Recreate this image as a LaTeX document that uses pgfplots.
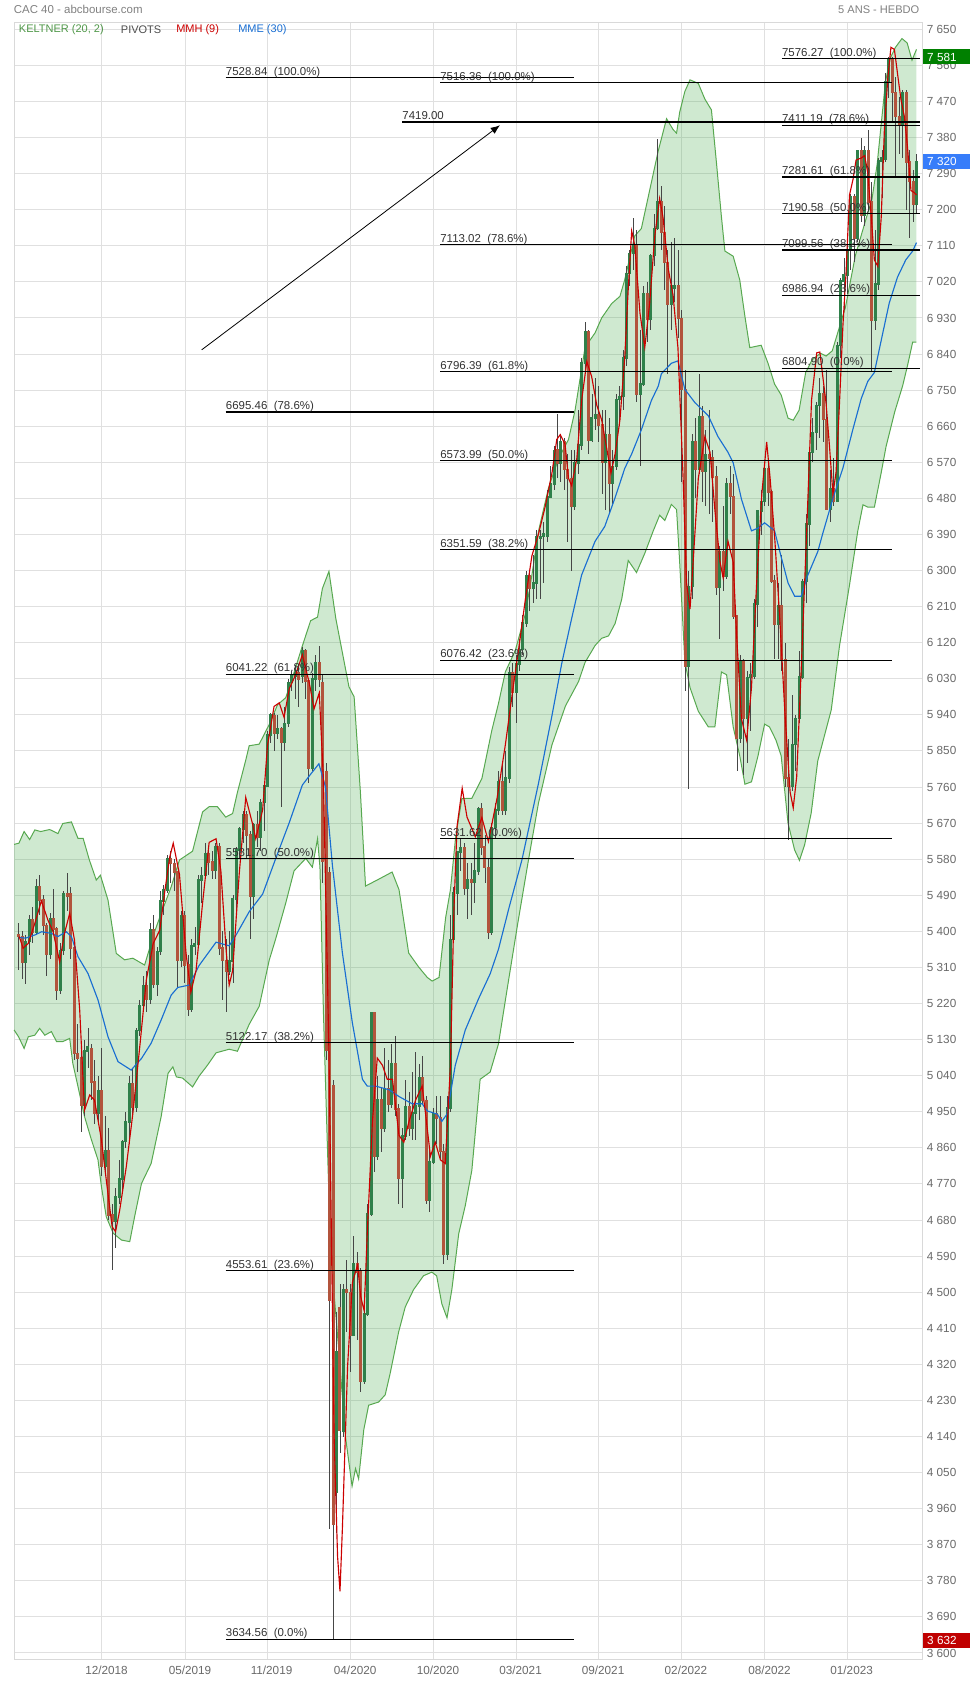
\documentclass[border=0pt]{standalone}
\usepackage{fontspec}
\setmainfont{Liberation Sans}
\usepackage{pgfplots}
\usepackage{pgfplotstable}
\pgfplotsset{compat=1.18}
\usetikzlibrary{arrows.meta}

\definecolor{bandline}{RGB}{88,168,80}
\definecolor{bandfill}{RGB}{76,175,80}
\definecolor{upcol}{RGB}{47,128,74}
\definecolor{dncol}{RGB}{178,84,60}
\definecolor{wick}{RGB}{70,70,70}
\definecolor{mmh}{RGB}{204,0,0}
\definecolor{mme}{RGB}{25,110,210}
\definecolor{gridc}{RGB}{224,224,224}
\definecolor{ticktext}{RGB}{105,105,105}
\definecolor{fibtext}{RGB}{50,50,50}
\definecolor{boxgreen}{RGB}{0,128,0}
\definecolor{boxblue}{RGB}{55,125,250}
\definecolor{boxred}{RGB}{192,0,0}

% rising weeks (close >= open)
\pgfplotstableread{
w O H L C
3 5324 5390 5270 5375
4 5375 5440 5340 5429
6 5398 5530 5390 5511
10 5344 5445 5330 5432
13 5252 5370 5245 5352
14 5352 5500 5340 5494
20 4967 5130 4940 5102
21 5102 5160 5060 5112
24 4947 5040 4920 5003
26 4813 4940 4800 4853
29 4678 4760 4610 4737
30 4737 4830 4720 4782
31 4782 4880 4745 4876
32 4876 4950 4860 4925
33 4925 5040 4870 5019
35 4961 5160 4950 5153
36 5153 5230 5140 5215
37 5215 5290 5200 5265
39 5231 5420 5220 5405
41 5269 5360 5240 5350
42 5350 5500 5340 5476
43 5476 5515 5440 5503
44 5503 5590 5495 5580
48 5327 5450 5310 5439
51 5207 5380 5200 5364
52 5364 5410 5340 5370
53 5368 5540 5360 5528
54 5528 5560 5470 5539
55 5539 5620 5530 5594
58 5552 5620 5530 5610
62 5300 5400 5290 5326
63 5326 5490 5270 5480
64 5480 5610 5440 5603
65 5603 5660 5580 5655
66 5655 5700 5620 5690
69 5488 5670 5430 5665
71 5636 5730 5600 5722
72 5722 5770 5650 5762
73 5762 5900 5760 5890
74 5890 5945 5870 5939
76 5894 5940 5880 5905
78 5872 5960 5850 5919
79 5919 6030 5910 6021
80 6021 6050 6000 6037
81 6037 6065 5980 6044
83 6037 6110 6020 6100
86 5806 6045 5800 6030
87 6030 6090 6000 6069
93 4000 4450 3900 4351
95 4154 4520 4140 4507
98 4393 4640 4390 4572
101 4278 4500 4270 4445
102 4445 4720 4440 4695
103 4695 5200 4690 5198
105 4839 5040 4830 4979
107 4910 5110 4900 5007
109 4970 5120 4960 5069
112 4784 4910 4710 4889
113 4889 5030 4880 4962
115 4910 5050 4880 4947
116 4947 5100 4880 4965
117 4965 5070 4930 5034
120 4730 4860 4700 4824
121 4824 4960 4820 4946
125 4594 4990 4580 4960
126 4960 5440 4950 5380
127 5380 5510 5370 5495
128 5495 5600 5440 5598
129 5598 5630 5550 5609
131 5507 5570 5430 5528
133 5522 5620 5470 5551
134 5551 5710 5540 5706
138 5399 5670 5390 5659
139 5659 5720 5630 5703
140 5703 5800 5690 5773
142 5703 5850 5690 5782
143 5782 6060 5770 6046
145 5997 6090 5920 6067
146 6067 6130 6050 6103
147 6103 6190 6090 6169
148 6169 6300 6160 6287
150 6257 6340 6220 6269
151 6269 6400 6230 6385
152 6380 6400 6230 6385
153 6385 6420 6270 6392
154 6386 6500 6370 6484
155 6484 6560 6480 6516
156 6516 6610 6500 6600
158 6569 6640 6520 6622
162 6460 6600 6450 6568
163 6568 6700 6540 6613
164 6613 6830 6600 6817
165 6817 6920 6790 6896
167 6626 6740 6620 6681
168 6681 6780 6650 6689
171 6570 6700 6450 6638
173 6518 6600 6460 6560
174 6560 6740 6550 6727
175 6727 6760 6660 6734
176 6734 6850 6700 6831
177 6831 7060 6810 7041
178 7041 7100 7010 7091
179 7091 7180 7050 7112
181 6739 6900 6560 6765
182 6765 7010 6760 6991
184 6927 7090 6900 7086
185 7086 7190 7060 7153
186 7153 7376 7150 7219
190 6965 7120 6900 7011
191 7005 7130 6970 7011
195 6062 6300 5756 6260
196 6260 6640 6230 6620
198 6553 6790 6540 6684
200 6548 6650 6460 6589
204 6258 6360 6130 6348
206 6285 6530 6280 6516
210 5882 6090 5870 6073
212 5931 6050 5820 6033
213 6033 6070 5900 6040
214 6036 6230 6030 6217
215 6217 6450 6160 6448
216 6448 6500 6390 6472
217 6472 6560 6460 6553
221 6167 6270 6080 6212
225 5762 5990 5750 5866
226 5866 5940 5800 5931
227 5931 6100 5920 6035
228 6035 6280 6030 6273
229 6273 6440 6220 6416
230 6416 6600 6360 6595
231 6595 6680 6570 6644
232 6644 6720 6600 6712
233 6712 6780 6630 6742
236 6453 6550 6420 6505
238 6474 6870 6470 6861
239 6861 7030 6830 7023
240 7023 7080 6950 7037
241 7037 7110 6990 7098
242 7098 7240 7050 7233
244 7130 7350 7120 7348
246 7187 7360 7160 7348
249 6925 7150 6900 7015
250 7015 7330 7000 7322
251 7322 7350 7230 7330
252 7325 7540 7320 7519
253 7519 7581 7480 7577
257 7414 7500 7330 7492
261 7213 7340 7190 7320
}\upc

% falling weeks (close < open)
\pgfplotstableread{
w O H L C
1 5392 5420 5303 5387
2 5387 5400 5280 5324
5 5429 5460 5370 5398
7 5511 5540 5440 5478
8 5478 5490 5390 5415
9 5415 5420 5290 5344
11 5432 5505 5395 5406
12 5406 5410 5230 5252
15 5494 5545 5450 5488
16 5493 5510 5330 5359
17 5359 5370 5080 5095
18 5095 5170 5050 5084
19 5084 5100 4900 4967
22 5107 5120 4980 5025
23 5025 5080 4920 4947
25 5003 5110 4790 4813
27 4853 4910 4680 4693
28 4693 4720 4556 4678
34 5019 5060 4940 4961
38 5265 5300 5200 5231
40 5405 5440 5260 5269
45 5580 5600 5520 5569
46 5569 5580 5500 5548
47 5548 5550 5260 5327
49 5439 5450 5270 5316
50 5316 5340 5190 5207
56 5594 5600 5540 5573
57 5573 5600 5530 5552
59 5610 5620 5340 5359
60 5359 5400 5230 5327
61 5327 5380 5200 5300
67 5690 5700 5580 5640
68 5640 5650 5380 5488
70 5665 5700 5610 5636
75 5939 5945 5850 5894
77 5905 5910 5710 5872
82 6044 6060 5960 6030
84 6100 6105 5980 6024
85 6024 6030 5770 5806
88 6069 6111 6010 6029
89 6020 6040 5520 5574
90 5797 5820 5080 5104
91 5545 5560 3910 4480
92 5014 5030 3632 3920
94 4462 4520 4100 4156
96 4507 4580 4400 4499
97 4499 4520 4300 4393
99 4572 4600 4380 4550
100 4550 4560 4250 4278
104 5198 5200 4800 4839
106 4979 5010 4850 4910
108 5007 5080 4950 4970
110 5069 5140 4940 4957
111 4957 4970 4720 4784
114 4962 5000 4890 4910
118 5034 5090 4970 4978
119 4978 4990 4720 4730
122 4946 4990 4870 4935
123 4935 4990 4830 4851
124 4851 4870 4570 4594
130 5609 5620 5490 5507
132 5528 5570 5440 5522
135 5706 5720 5590 5611
136 5611 5640 5520 5559
137 5559 5580 5380 5399
141 5773 5820 5690 5703
144 6046 6070 5960 5997
149 6287 6300 6200 6257
157 6600 6690 6530 6569
159 6622 6630 6500 6552
160 6552 6590 6370 6530
161 6530 6600 6300 6460
166 6896 6900 6590 6626
169 6689 6760 6620 6663
170 6663 6700 6490 6570
172 6638 6680 6440 6518
180 7112 7150 6720 6739
183 6991 7020 6870 6927
187 7219 7260 7100 7143
188 7143 7210 7000 7068
189 7068 7100 6790 6965
192 7011 7100 6880 6929
193 6929 6950 6520 6752
194 6752 6800 6000 6062
197 6620 6680 6480 6553
199 6684 6710 6470 6548
201 6589 6700 6440 6581
202 6581 6600 6420 6534
203 6534 6560 6240 6258
205 6348 6460 6250 6285
207 6516 6560 6440 6485
208 6485 6540 6180 6187
209 6187 6190 5800 5882
211 6073 6080 5790 5931
218 6553 6570 6460 6496
219 6496 6500 6270 6274
220 6274 6290 6080 6167
222 6212 6340 6050 6077
223 6077 6120 5760 5783
224 5783 5880 5628 5762
234 6742 6760 6620 6677
235 6677 6800 6450 6453
237 6505 6580 6460 6474
243 7233 7240 7070 7130
245 7348 7380 7170 7187
247 7348 7400 7200 7220
248 7220 7270 6795 6925
254 7577 7580 7420 7492
255 7492 7530 7280 7433
256 7433 7480 7340 7414
258 7492 7500 7200 7319
259 7319 7350 7130 7270
260 7270 7300 7170 7213
}\dnc

\pgfplotstableread{
w v
-0.4 5617
1 5620
2.5 5649
4.1 5629
5.6 5653
7.3 5649
9.9 5654
12.3 5644
13.7 5669
16.2 5673
18.1 5632
19.6 5632
21.4 5578
23.4 5528
24.6 5540
26.8 5478
29.2 5345
31.6 5329
34 5333
37.4 5316
40.3 5399
42.2 5445
45.1 5511
47.5 5578
51.3 5600
54.2 5698
56.1 5711
58.5 5711
60.9 5685
62.9 5694
64.3 5747
66.7 5827
67.7 5863
70.6 5867
73.5 5916
75.9 5965
78.3 5983
80.2 6032
83.1 6112
85.5 6175
87.5 6184
88.9 6255
90.8 6298
92.8 6180
96.6 6010
98.1 5985
99.9 5749
101.4 5513
105.2 5530
109.1 5548
111.1 5504
113.9 5346
116.8 5311
119.3 5285
120.7 5276
122.7 5285
124.6 5434
126 5504
127.5 5635
129.3 5731
132.2 5732
135.1 5781
138 5902
139.9 5968
141.9 6047
144.8 6101
147.7 6192
149.6 6289
151.5 6398
154.4 6506
157.3 6579
160.2 6627
162.1 6700
165 6857
167.9 6893
169.8 6930
172.7 6966
175.1 6984
176.5 7026
179.4 7135
181.3 7153
184.2 7268
186.2 7347
188.6 7427
190.5 7400
191.5 7391
192.4 7443
193.9 7495
195.4 7524
197.8 7515
199.7 7476
201.6 7449
203.1 7313
204.5 7182
205.5 7097
207.9 7084
209.8 7025
211.3 6934
212.7 6856
216 6862
218 6817
219.9 6765
221.8 6738
223.8 6680
225.3 6675
227 6700
228.9 6794
230.8 6826
233.2 6842
234.8 6835
236.6 6848
240.4 6956
243.3 7086
246.2 7172
248.1 7226
249.6 7313
251 7432
252 7518
253.4 7578
254.9 7605
256.8 7627
258.3 7616
259.7 7573
261 7600
}\upperband

\pgfplotstableread{
w v
-0.4 5154
0.9 5137
2.5 5108
3.7 5137
5.6 5141
7 5158
8.5 5141
10.4 5150
11.9 5125
13.7 5125
15.7 5133
16.6 5071
18.1 5013
20 4938
22 4880
23.9 4830
24.9 4763
26.3 4688
28.3 4647
30.7 4630
33.1 4626
34.5 4688
36.5 4771
39.3 4821
42.2 4938
44.2 5046
45.6 5062
46.6 5037
48.4 5034
51.3 5012
53.2 5039
55.6 5066
58.1 5097
61.9 5106
64.3 5101
67.7 5168
70.6 5213
73.5 5328
75.4 5382
78.3 5471
80.7 5551
84.1 5582
86 5560
87.5 5631
88.2 5560
89.2 5200
90.3 4880
91.3 4600
93.7 4349
95.6 4139
97.5 4016
98.5 4060
99.4 4034
100.9 4157
102.3 4218
105.2 4226
107.1 4244
108.5 4296
111 4401
112.9 4463
115.3 4506
118.2 4541
120.6 4550
122 4541
123.5 4471
125 4436
126.4 4506
128.4 4646
130.3 4716
132.2 4804
134.6 5031
137.5 5049
139.9 5119
142.5 5260
145.5 5420
148.6 5578
151.5 5720
155.4 5865
159.3 5962
163.1 6023
165 6071
167.9 6113
169.8 6131
171.8 6137
173.7 6168
175.6 6228
177.5 6325
179.9 6295
182.3 6343
184.7 6398
186.6 6438
188.1 6425
190 6465
191.5 6452
192.4 6321
193.9 6073
195.4 6008
197.8 5949
200.7 5910
202.6 5910
204.5 6047
206 6040
207.9 5910
209.8 5838
211.3 5767
213.2 5773
215.1 5838
217 5917
218.4 5910
220.3 5877
221.8 5838
223.8 5669
225.7 5603
227.1 5577
228.6 5616
230.5 5695
232.4 5825
236.3 5952
238.7 6112
241.6 6264
244 6399
245.5 6464
246.9 6458
248.8 6458
250.8 6545
252.2 6610
254.7 6696
257 6761
258.5 6815
259.9 6870
261 6870
}\lowerband

% channel outline: upper band forward, lower band backward
\pgfplotstableread{
w v
-0.4 5617
1 5620
2.5 5649
4.1 5629
5.6 5653
7.3 5649
9.9 5654
12.3 5644
13.7 5669
16.2 5673
18.1 5632
19.6 5632
21.4 5578
23.4 5528
24.6 5540
26.8 5478
29.2 5345
31.6 5329
34 5333
37.4 5316
40.3 5399
42.2 5445
45.1 5511
47.5 5578
51.3 5600
54.2 5698
56.1 5711
58.5 5711
60.9 5685
62.9 5694
64.3 5747
66.7 5827
67.7 5863
70.6 5867
73.5 5916
75.9 5965
78.3 5983
80.2 6032
83.1 6112
85.5 6175
87.5 6184
88.9 6255
90.8 6298
92.8 6180
96.6 6010
98.1 5985
99.9 5749
101.4 5513
105.2 5530
109.1 5548
111.1 5504
113.9 5346
116.8 5311
119.3 5285
120.7 5276
122.7 5285
124.6 5434
126 5504
127.5 5635
129.3 5731
132.2 5732
135.1 5781
138 5902
139.9 5968
141.9 6047
144.8 6101
147.7 6192
149.6 6289
151.5 6398
154.4 6506
157.3 6579
160.2 6627
162.1 6700
165 6857
167.9 6893
169.8 6930
172.7 6966
175.1 6984
176.5 7026
179.4 7135
181.3 7153
184.2 7268
186.2 7347
188.6 7427
190.5 7400
191.5 7391
192.4 7443
193.9 7495
195.4 7524
197.8 7515
199.7 7476
201.6 7449
203.1 7313
204.5 7182
205.5 7097
207.9 7084
209.8 7025
211.3 6934
212.7 6856
216 6862
218 6817
219.9 6765
221.8 6738
223.8 6680
225.3 6675
227 6700
228.9 6794
230.8 6826
233.2 6842
234.8 6835
236.6 6848
240.4 6956
243.3 7086
246.2 7172
248.1 7226
249.6 7313
251 7432
252 7518
253.4 7578
254.9 7605
256.8 7627
258.3 7616
259.7 7573
261 7600
261 6870
259.9 6870
258.5 6815
257 6761
254.7 6696
252.2 6610
250.8 6545
248.8 6458
246.9 6458
245.5 6464
244 6399
241.6 6264
238.7 6112
236.3 5952
232.4 5825
230.5 5695
228.6 5616
227.1 5577
225.7 5603
223.8 5669
221.8 5838
220.3 5877
218.4 5910
217 5917
215.1 5838
213.2 5773
211.3 5767
209.8 5838
207.9 5910
206 6040
204.5 6047
202.6 5910
200.7 5910
197.8 5949
195.4 6008
193.9 6073
192.4 6321
191.5 6452
190 6465
188.1 6425
186.6 6438
184.7 6398
182.3 6343
179.9 6295
177.5 6325
175.6 6228
173.7 6168
171.8 6137
169.8 6131
167.9 6113
165 6071
163.1 6023
159.3 5962
155.4 5865
151.5 5720
148.6 5578
145.5 5420
142.5 5260
139.9 5119
137.5 5049
134.6 5031
132.2 4804
130.3 4716
128.4 4646
126.4 4506
125 4436
123.5 4471
122 4541
120.6 4550
118.2 4541
115.3 4506
112.9 4463
111 4401
108.5 4296
107.1 4244
105.2 4226
102.3 4218
100.9 4157
99.4 4034
98.5 4060
97.5 4016
95.6 4139
93.7 4349
91.3 4600
90.3 4880
89.2 5200
88.2 5560
87.5 5631
86 5560
84.1 5582
80.7 5551
78.3 5471
75.4 5382
73.5 5328
70.6 5213
67.7 5168
64.3 5101
61.9 5106
58.1 5097
55.6 5066
53.2 5039
51.3 5012
48.4 5034
46.6 5037
45.6 5062
44.2 5046
42.2 4938
39.3 4821
36.5 4771
34.5 4688
33.1 4626
30.7 4630
28.3 4647
26.3 4688
24.9 4763
23.9 4830
22 4880
20 4938
18.1 5013
16.6 5071
15.7 5133
13.7 5125
11.9 5125
10.4 5150
8.5 5141
7 5158
5.6 5141
3.7 5137
2.5 5108
0.9 5137
-0.4 5154
}\bandpoly

\pgfplotstableread{
w v
1 5385
2.9 5383
5.6 5391
7.6 5399
10.4 5395
12.3 5387
14.7 5399
16.2 5387
18.1 5337
21 5295
23.9 5229
26.8 5137
29.7 5075
33.5 5054
36.5 5083
39.3 5121
42.2 5179
45.1 5241
47 5260
50.3 5266
53.2 5315
58.1 5373
61.9 5364
63.9 5391
67.7 5449
71.6 5493
75.4 5582
79.3 5671
83.1 5765
85.5 5792
87.9 5818
89.8 5760
91.8 5565
94.7 5346
97.6 5171
100.5 5031
101.9 5014
104.3 5014
108.2 5005
111.1 4988
114.9 4970
117.8 4970
119.3 4952
122.2 4944
123.5 4926
125 4944
127.4 5066
130.3 5154
134.2 5233
137.5 5294
139.9 5355
143 5460
146.7 5578
151.5 5769
155.4 5938
158.3 6071
161.1 6180
164 6289
167.9 6373
170.7 6410
173.7 6482
176.5 6555
178.5 6591
181.3 6651
184.2 6724
186.2 6760
187.1 6791
190 6817
191.9 6823
193.9 6752
196.8 6719
200.7 6686
203.5 6634
206.4 6595
207.9 6569
210.3 6478
213.2 6399
215.1 6406
217 6419
219.9 6399
221.8 6334
223.8 6269
225.7 6236
227.6 6236
229.5 6288
232.4 6347
233.9 6394
236.8 6480
239.7 6556
242.6 6653
245 6729
246.9 6772
248.8 6794
251.2 6891
253.1 6967
255.5 7032
257.9 7075
259.9 7097
261 7118
}\mmeline

\pgfplotstableread{
w v
1.1 5387
2.2 5358
3.7 5370
5.6 5420
7.5 5476
9.4 5428
10.9 5399
12.8 5324
14.2 5395
15.7 5445
17.1 5378
18.6 5204
20 4954
21.5 4992
22.9 4979
24.9 4880
26.3 4780
28 4663
29 4651
30.2 4705
32.1 4813
34 4946
36 5112
37.9 5279
39.9 5370
41.8 5403
43.3 5503
44.7 5586
45.7 5620
47.5 5542
49.4 5346
50.8 5248
52.3 5302
54.2 5471
56.1 5622
58.1 5631
59.5 5551
61 5355
61.9 5266
62.9 5302
64.8 5542
66.7 5734
68.7 5667
69.6 5631
71.6 5703
73 5863
74.9 5961
76.4 5970
77.8 5934
79.3 6005
81.2 6041
83.1 6090
85.1 6020
86.5 5955
88 5995
89.2 5780
90.8 5101
92.3 4139
93.3 3841
94 3754
94.7 3911
96.2 4314
97.6 4524
99.1 4568
100 4489
101 4454
101.9 4646
103.4 4926
104.8 5084
106.3 5066
107.7 5031
109.2 5031
111.1 4891
112.5 4874
114 4926
115.9 4979
117.8 5014
118.8 4944
120.2 4839
121.6 4874
123.1 4830
124.5 4821
126 5066
127 5451
127.9 5661
129.4 5757
130.8 5685
133.2 5636
135.1 5684
137 5624
139.5 5732
141.9 5865
143.8 5986
145.8 6107
147.7 6228
149.6 6337
151.5 6391
153.4 6458
155.4 6543
156.8 6627
157.8 6639
159.2 6615
160.2 6530
161.1 6512
162.6 6579
164 6724
165.5 6821
166.9 6784
168.4 6712
169.8 6676
171.3 6603
172.5 6543
173.7 6591
175.1 6676
176.5 6833
177.5 7002
178.5 7147
179.4 7111
180.9 6942
182.3 6857
183.7 6966
185.2 7135
186.6 7228
187.6 7180
189.1 7052
190.5 6986
191.9 6856
193.4 6530
194.4 6269
195.4 6204
196.3 6321
197.8 6530
199.7 6634
201.2 6595
202.6 6451
204.1 6321
205 6282
206.4 6373
207.9 6321
208.9 6138
210.3 5930
211.8 5877
213.2 6008
214.7 6269
216.2 6491
217.6 6621
218.6 6530
220 6373
221.5 6164
222.9 5943
224.4 5747
225.3 5708
226.3 5786
227.7 6073
229.2 6399
230.6 6725
232.1 6843
233 6845
234.8 6718
235.8 6610
236.8 6491
237.7 6545
238.7 6718
239.7 6913
240.6 7043
241.6 7237
242.6 7275
243.5 7324
245 7329
246 7335
246.9 7291
247.9 7183
248.8 7075
249.8 7059
250.8 7183
251.7 7400
252.7 7529
253.6 7605
254.6 7600
255.5 7540
256.5 7475
257.5 7432
258.4 7356
259.4 7248
260.3 7243
261 7237
}\mmhline

\newcommand{\fib}[4]{%
  \draw[black, line width=0.85pt] (axis cs:#1,#3) -- (axis cs:#2,#3);
  \node[anchor=base west, inner sep=0pt, font=\fontsize{8.6}{9}\selectfont, text=fibtext, yshift=1.8pt] at (axis cs:#1,#3) {#4};}

\pgfplotsset{
  wickstyle/.style={draw=none, mark=none, forget plot,
    error bars/.cd, y dir=both, y explicit, error mark=none,
    error bar style={draw=wick, line width=0.7pt, solid}},
  bodystyle/.style={draw=none, mark=none, forget plot,
    error bars/.cd, y dir=both, y explicit, error mark=none,
    error bar style={draw=#1, line width=2.25pt, solid}},
}

\begin{document}
\begin{tikzpicture}
\path[use as bounding box] (0,0) rectangle (727.5pt,1261.5pt);
\begin{axis}[
  at={(10.5pt,17.25pt)}, anchor=south west,
  scale only axis, width=681pt, height=1227.2pt,
  xmin=-0.43, xmax=262.6, ymin=3585, ymax=7666.5,
  clip=false,
  axis line style={draw=gray!30, line width=0.75pt},
  grid=major, major grid style={draw=gridc, line width=0.75pt},
  major tick length=0pt,
  xtick={25.06,49.25,72.86,97.08,121.09,145.0,168.9,192.9,217.1,240.9},
  xticklabels={12/2018,05/2019,11/2019,04/2020,10/2020,03/2021,09/2021,02/2022,08/2022,01/2023},
  xticklabel style={font=\fontsize{8.8}{9}\selectfont, text=ticktext, inner sep=0pt, anchor=north, yshift=-5.2pt, xshift=3.4pt},
  ytick={3600,3690,...,7650},
  yticklabel pos=right,
  scaled y ticks=false,
  yticklabel style={font=\fontsize{8.8}{9}\selectfont, text=ticktext, inner sep=0pt, anchor=west, xshift=3.5pt,
    /pgf/number format/fixed, /pgf/number format/precision=0,
    /pgf/number format/1000 sep={\ }, /pgf/number format/assume math mode=true},
]
% Keltner channel
\addplot[fill=bandfill, fill opacity=0.27, draw=none, forget plot] table[x=w,y=v] {\bandpoly} -- cycle;
\addplot[draw=bandline, line width=0.75pt, mark=none] table[x=w,y=v] {\upperband};
\addplot[draw=bandline, line width=0.75pt, mark=none] table[x=w,y=v] {\lowerband};
% wicks
\addplot[wickstyle] table[x=w, y expr={(\thisrow{H}+\thisrow{L})/2}, y error expr={(\thisrow{H}-\thisrow{L})/2}] {\upc};
\addplot[wickstyle] table[x=w, y expr={(\thisrow{H}+\thisrow{L})/2}, y error expr={(\thisrow{H}-\thisrow{L})/2}] {\dnc};
% bodies
\addplot[bodystyle=upcol] table[x=w, y expr={(\thisrow{O}+\thisrow{C})/2}, y error expr={abs(\thisrow{C}-\thisrow{O})/2+2}] {\upc};
\addplot[bodystyle=dncol] table[x=w, y expr={(\thisrow{O}+\thisrow{C})/2}, y error expr={abs(\thisrow{C}-\thisrow{O})/2+2}] {\dnc};
% MME 30
\addplot[draw=mme, line width=0.85pt, mark=none] table[x=w,y=v] {\mmeline};
% MMH 9
\addplot[draw=mmh, line width=0.85pt, mark=none] table[x=w,y=v] {\mmhline};

% Pivots group A
\fib{60.9}{161.8}{7528.84}{7528.84\ \ (100.0\%)}
\fib{60.9}{161.8}{6695.46}{6695.46\ \ (78.6\%)}
\fib{60.9}{161.8}{6041.22}{6041.22\ \ (61.8\%)}
\fib{60.9}{161.8}{5581.70}{5581.70\ \ (50.0\%)}
\fib{60.9}{161.8}{5122.17}{5122.17\ \ (38.2\%)}
\fib{60.9}{161.8}{4553.61}{4553.61\ \ (23.6\%)}
\fib{60.9}{161.8}{3634.56}{3634.56\ \ (0.0\%)}
% group B
\fib{123.0}{253.8}{7516.36}{7516.36\ \ (100.0\%)}
\fib{123.0}{253.8}{7113.02}{7113.02\ \ (78.6\%)}
\fib{123.0}{253.8}{6796.39}{6796.39\ \ (61.8\%)}
\fib{123.0}{253.8}{6573.99}{6573.99\ \ (50.0\%)}
\fib{123.0}{253.8}{6351.59}{6351.59\ \ (38.2\%)}
\fib{123.0}{253.8}{6076.42}{6076.42\ \ (23.6\%)}
\fib{123.0}{253.8}{5631.62}{5631.62\ \ (0.0\%)}
% group C
\fib{222.0}{262.0}{7576.27}{7576.27\ \ (100.0\%)}
\fib{222.0}{262.0}{7411.19}{7411.19\ \ (78.6\%)}
\fib{222.0}{262.0}{7281.61}{7281.61\ \ (61.8\%)}
\fib{222.0}{262.0}{7190.58}{7190.58\ \ (50.0\%)}
\fib{222.0}{262.0}{7099.56}{7099.56\ \ (38.2\%)}
\fib{222.0}{262.0}{6986.94}{6986.94\ \ (23.6\%)}
\fib{222.0}{262.0}{6804.90}{6804.90\ \ (0.0\%)}
% 7419 line
\fib{112.0}{262.0}{7419.00}{7419.00}
% arrow
\draw[black, line width=0.6pt, -{Latex[length=7pt,width=5.5pt]}] (axis cs:53.94,6850.5) -- (axis cs:140.35,7410.8);

% price boxes
\fill[boxgreen] (axis cs:262.8,7581) ++(0pt,-5.6pt) rectangle ++(35.5pt,11.25pt);
\node[anchor=west, inner sep=0pt, xshift=3.2pt, text=white, font=\fontsize{8.8}{9}\selectfont] at (axis cs:262.8,7581) {7\ 581};
\fill[boxblue] (axis cs:262.8,7320) ++(0pt,-5.6pt) rectangle ++(35.5pt,11.25pt);
\node[anchor=west, inner sep=0pt, xshift=3.2pt, text=white, font=\fontsize{8.8}{9}\selectfont] at (axis cs:262.8,7320) {7\ 320};
\fill[boxred] (axis cs:262.8,3632) ++(0pt,-5.6pt) rectangle ++(35.5pt,11.25pt);
\node[anchor=west, inner sep=0pt, xshift=3.2pt, text=white, font=\fontsize{8.8}{9}\selectfont] at (axis cs:262.8,3632) {3\ 632};
\end{axis}

% titles
\node[anchor=west, inner sep=0pt, text=gray, font=\fontsize{8.6}{9}\selectfont] at (10.2pt,1254.5pt) {CAC 40 - abcbourse.com};
\node[anchor=east, inner sep=0pt, text=gray, font=\fontsize{8.3}{9}\selectfont] at (689.7pt,1254.5pt) {5 ANS - HEBDO};
% legend
\node[anchor=west, inner sep=0pt, text=bandline!90!black, font=\fontsize{8.25}{9}\selectfont] at (14pt,1239.5pt) {KELTNER (20, 2)};
\node[anchor=west, inner sep=0pt, text=black!70, font=\fontsize{8.25}{9}\selectfont] at (90.5pt,1239.5pt) {PIVOTS};
\node[anchor=west, inner sep=0pt, text=mmh, font=\fontsize{8.25}{9}\selectfont] at (132pt,1239.5pt) {MMH (9)};
\node[anchor=west, inner sep=0pt, text=mme, font=\fontsize{8.25}{9}\selectfont] at (178.5pt,1239.5pt) {MME (30)};
\end{tikzpicture}
\end{document}
